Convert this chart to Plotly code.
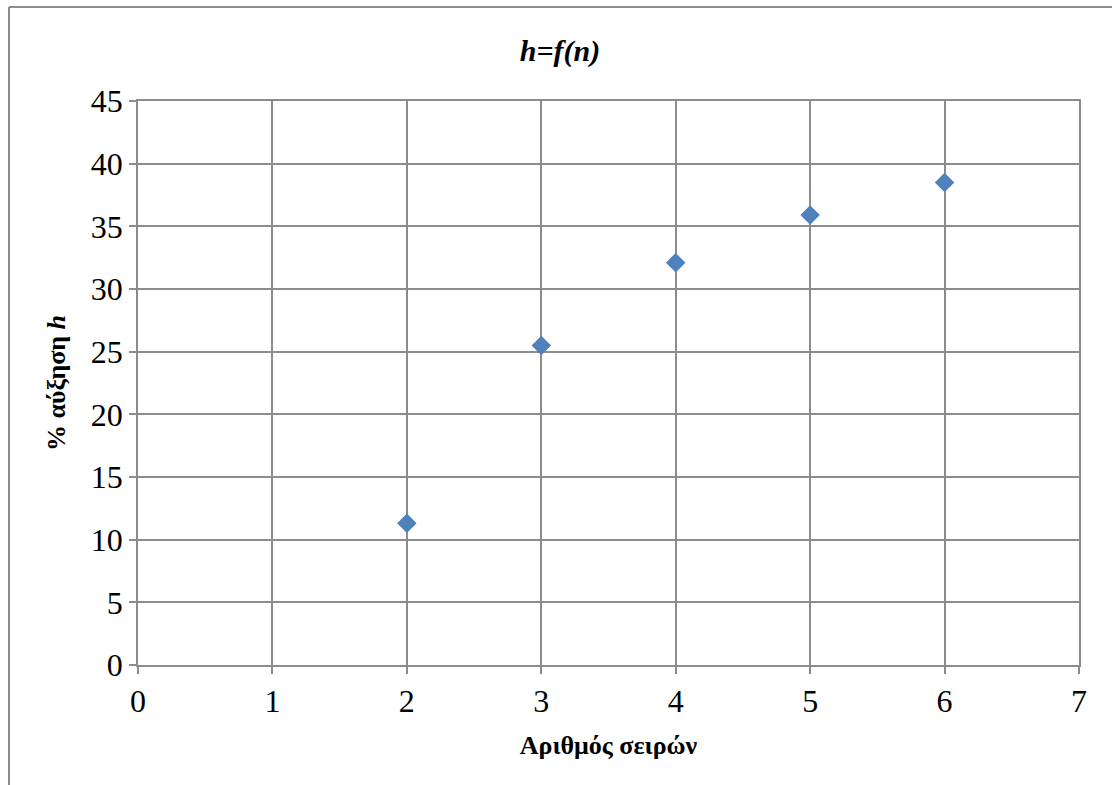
import plotly.graph_objects as go

n_values = [2, 3, 4, 5, 6]
h_values = [11.3, 25.5, 32.1, 35.9, 38.5]
x_ticks = [0, 1, 2, 3, 4, 5, 6, 7]
y_ticks = [0, 5, 10, 15, 20, 25, 30, 35, 40, 45]

FONT = "Times New Roman"
GRID = "#8c8c8c"

fig = go.Figure()
fig.add_trace(go.Scatter(
    x=n_values, y=h_values, mode="markers",
    marker=dict(symbol="diamond", size=15, color="#4F81BD",
                line=dict(width=0)),
    showlegend=False,
))

PW = 1112 - 138 - 33
PH = 785 - 101 - 120

fig.update_layout(
    width=1112, height=785,
    margin=dict(l=138, r=33, t=101, b=120),
    paper_bgcolor="white", plot_bgcolor="white",
    font=dict(family=FONT, size=32, color="black"),
    title=dict(text="<b><i>h=f(n)</i></b>", x=560/1112, xanchor="center",
               y=1-50/785, yanchor="middle", font=dict(size=30, family=FONT)),
    xaxis=dict(range=[0, 7], tickvals=x_ticks, showgrid=True, gridcolor=GRID,
               gridwidth=1.5, showline=True, linecolor=GRID, linewidth=1.5,
               ticks="outside", ticklen=7, tickcolor=GRID, tickwidth=1.5,
               zeroline=False, mirror=True,
               tickfont=dict(family=FONT, size=32, color="black"),
               title=dict(text="<b>Αριθμός σειρών</b>", font=dict(size=26, family=FONT), standoff=18)),
    yaxis=dict(range=[0, 45], tickvals=y_ticks, showgrid=True, gridcolor=GRID,
               gridwidth=1.5, showline=True, linecolor=GRID, linewidth=1.5,
               ticks="outside", ticklen=7, tickcolor=GRID, tickwidth=1.5,
               zeroline=False, mirror=True,
               tickfont=dict(family=FONT, size=32, color="black"),
               title=dict(text="<b>% αύξηση <i>h</i></b>", font=dict(size=26, family=FONT), standoff=18)),
    shapes=[
        dict(type="line", xref="paper", yref="paper",
             x0=-129/PW, x1=1.1, y0=1+94/PH, y1=1+94/PH,
             line=dict(color="#8c8c8c", width=2)),
        dict(type="line", xref="paper", yref="paper",
             x0=-129/PW, x1=-129/PW, y0=1+94/PH, y1=-0.3,
             line=dict(color="#8c8c8c", width=2)),
    ],
)

fig.write_html("out.html")
